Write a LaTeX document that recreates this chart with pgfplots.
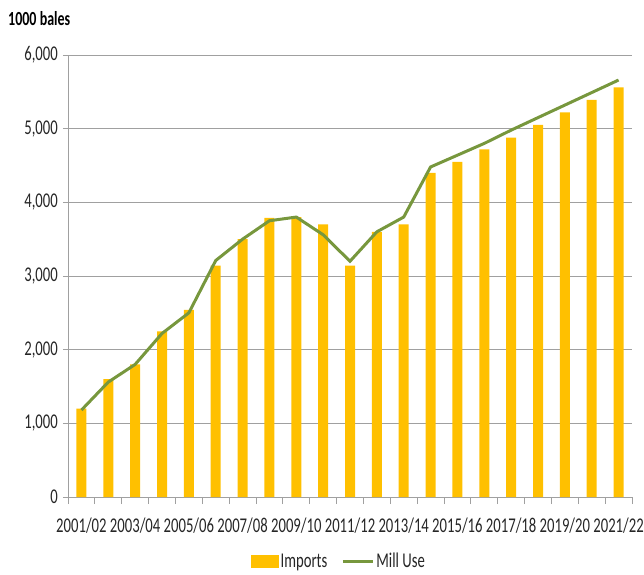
\documentclass[border=0pt]{standalone}
\usepackage{fontspec}
\setmainfont{Carlito}[FakeStretch=0.7]
\usepackage{pgfplots}
\pgfplotsset{compat=1.18}
\definecolor{barc}{HTML}{FFC000}
\definecolor{linec}{HTML}{77973D}
\definecolor{gridc}{HTML}{A0A0A0}
\definecolor{txtc}{HTML}{262626}
\begin{document}
\begin{tikzpicture}[x=1pt,y=1pt]
\useasboundingbox (0,0) rectangle (644,574);
\begin{axis}[
  at={(68pt,77pt)}, anchor=south west,
  scale only axis, width=564pt, height=442pt,
  xmin=-0.5, xmax=20.5, ymin=0, ymax=6000,
  axis x line*=bottom, axis y line*=left,
  axis line style={gridc, line width=1pt, -},
  xtick={0,2,...,20},
  xticklabels={2001/02,2003/04,2005/06,2007/08,2009/10,2011/12,2013/14,2015/16,2017/18,2019/20,2021/22},
  minor xtick={-0.5,0.5,...,20.5},
  major x tick style={draw=none},
  minor x tick style={gridc, line width=1pt},
  minor tick length=7pt,
  tick align=outside,
  ytick={0,1000,...,6000},
  major y tick style={gridc, line width=1pt},
  major tick length=5pt,
  ymajorgrids, grid style={gridc, line width=1pt},
  /pgf/number format/assume math mode=true,
  /pgf/number format/1000 sep={,},
  scaled y ticks=false,
  ticklabel style={font=\fontsize{21}{24}\selectfont, text=txtc},
  yticklabel style={inner sep=0pt, xshift=-5pt},
  xticklabel style={inner sep=0pt, yshift=-16pt},
  legend style={at={(0.48,-0.145)}, anchor=center, draw=none, legend columns=2,
    font=\fontsize{21}{24}\selectfont, text=txtc, inner sep=1pt,
    /tikz/every even column/.append style={column sep=12pt}},
]
\addplot[ybar, bar width=10pt, fill=barc, draw=none,
  legend image code/.code={\fill[barc] (0pt,-6.5pt) rectangle (28pt,6.5pt);}]
 coordinates {(0,1200)(1,1600)(2,1800)(3,2250)(4,2540)(5,3140)(6,3500)(7,3790)(8,3800)(9,3700)(10,3140)(11,3600)(12,3700)(13,4400)(14,4550)(15,4720)(16,4880)(17,5050)(18,5220)(19,5390)(20,5560)};
\addlegendentry{Imports}
\addplot[linec, line width=3pt, no marks,
  legend image code/.code={\draw[linec, line width=3pt] (0pt,0pt) -- (30pt,0pt);}]
 coordinates {(0,1180)(1,1560)(2,1800)(3,2220)(4,2500)(5,3210)(6,3500)(7,3750)(8,3800)(9,3560)(10,3200)(11,3600)(12,3800)(13,4480)(14,4640)(15,4800)(16,4980)(17,5150)(18,5320)(19,5490)(20,5660)};
\addlegendentry{Mill Use}
\end{axis}
\node[anchor=west, inner sep=0pt, font=\fontsize{20}{22}\selectfont\bfseries, text=black] at (8,555) {1000 bales};
\end{tikzpicture}
\end{document}
